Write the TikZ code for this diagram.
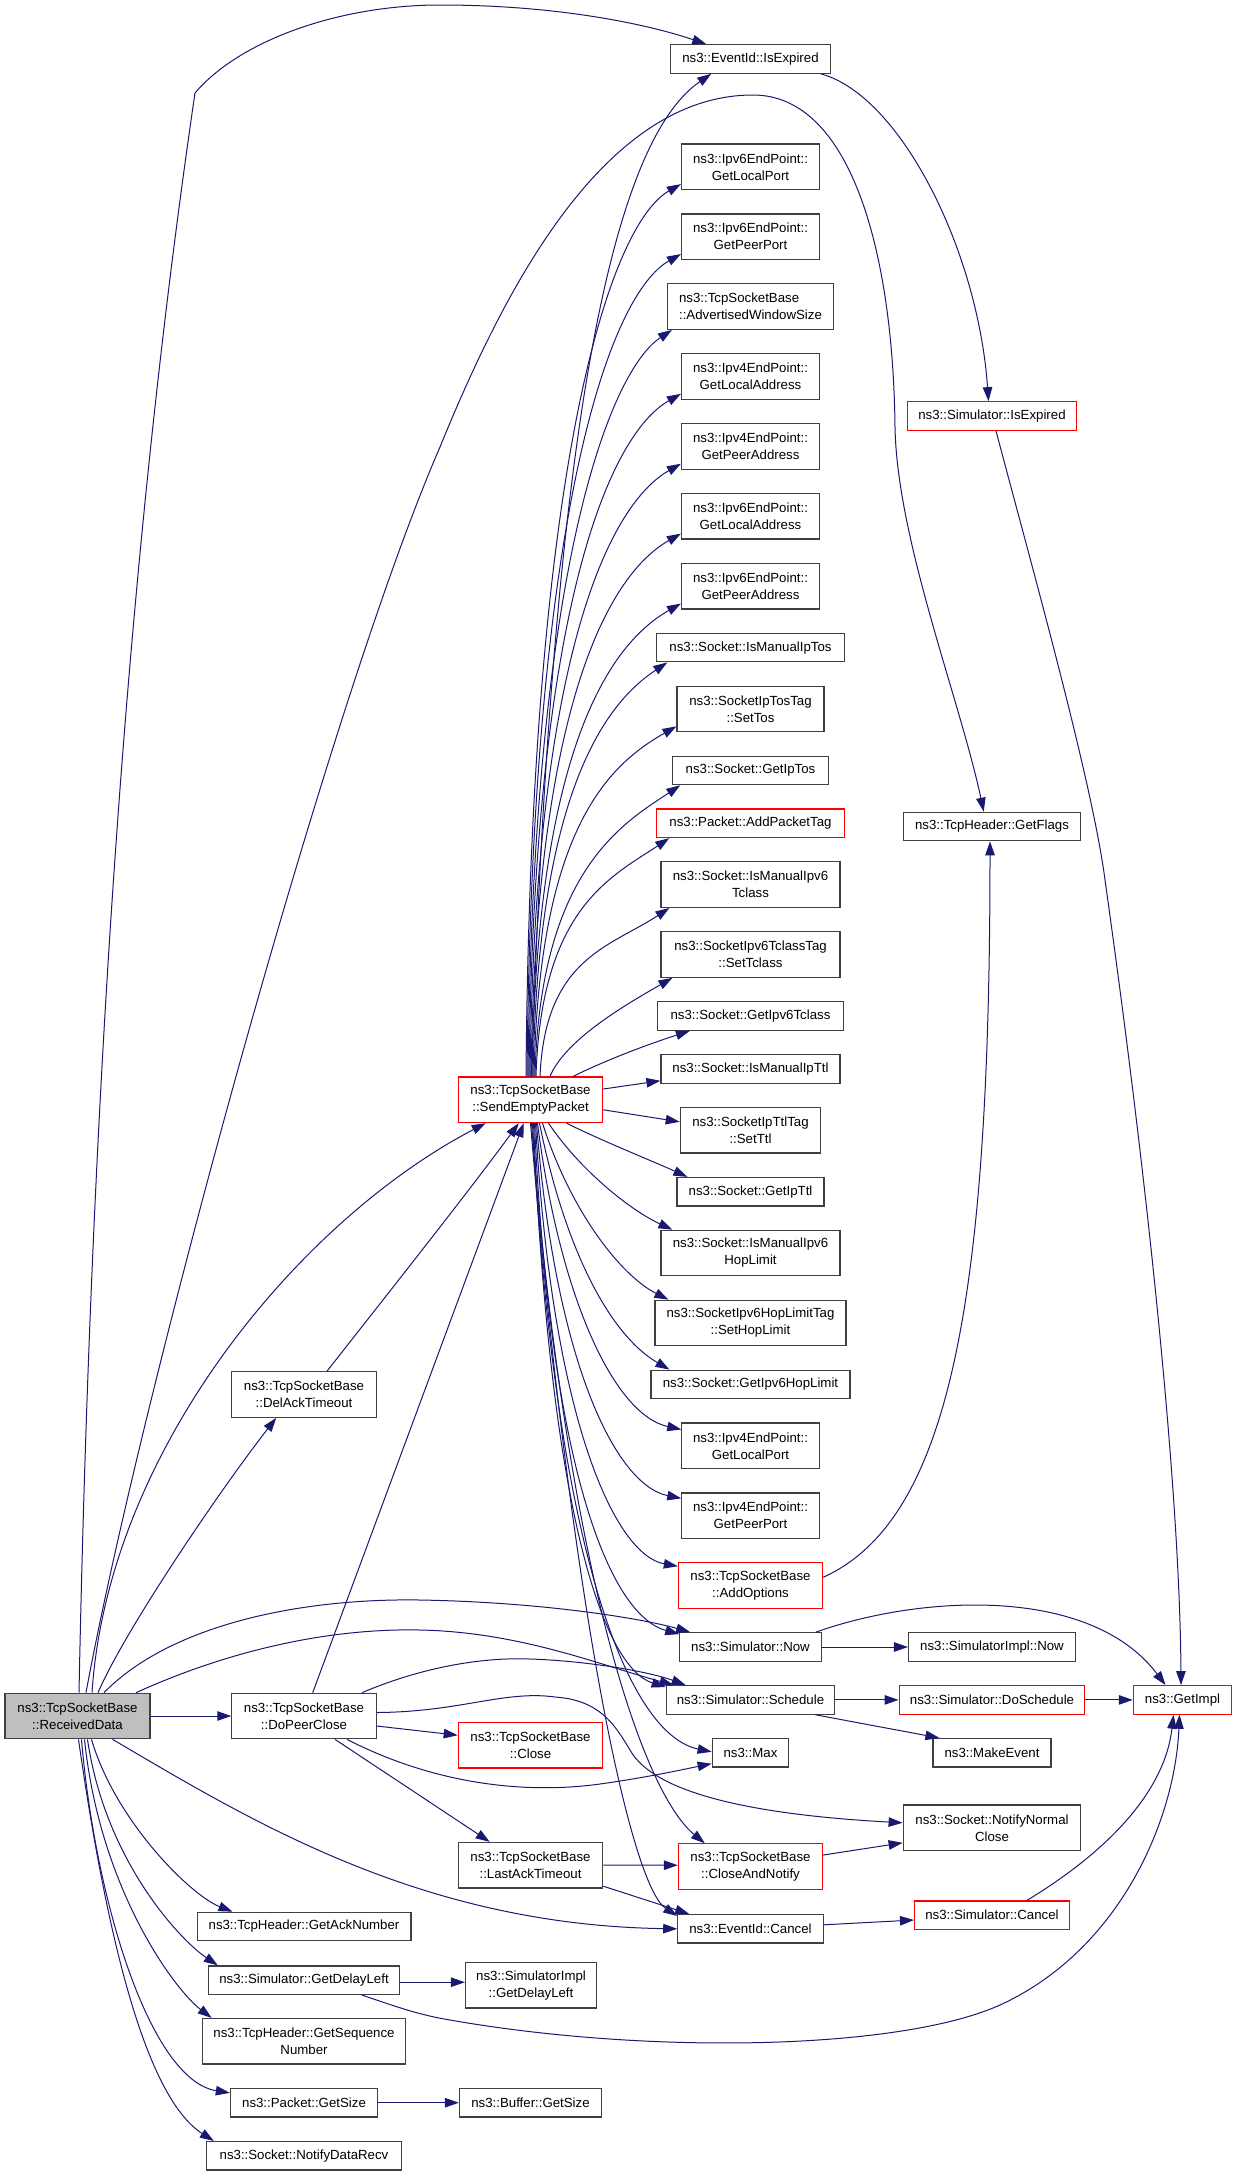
\documentclass[tikz,border=0pt]{standalone}
\usepackage{fontspec}
\setmainfont{Liberation Sans}
\usetikzlibrary{arrows.meta}
\definecolor{eblue}{HTML}{191970}
\definecolor{bgray}{HTML}{404040}
\definecolor{fillg}{HTML}{BFBFBF}
\newcommand\dxfont{\fontsize{13.25}{17}\selectfont}
\begin{document}
\begin{tikzpicture}[x=1pt,y=-1pt,
  nbox/.style={draw=bgray,line width=1.2pt,fill=white,inner sep=0pt,align=center,font=\dxfont,text=black},
  nred/.style={nbox,draw=red},
  ln1/.style={minimum height=28.5pt},
  ln2/.style={minimum height=45.5pt},
  edg/.style={draw=eblue,line width=1pt,-{Triangle[length=14pt,width=9.5pt]}}]
\useasboundingbox (0,0) rectangle (1237,2176);

% column 1
\node[nbox,ln2,minimum width=145pt,fill=fillg] (rd) at (77.5,1716) {ns3::TcpSocketBase\\::ReceivedData};
% column 2
\node[nbox,ln2,minimum width=144.3pt] (dat) at (304,1394.5) {ns3::TcpSocketBase\\::DelAckTimeout};
\node[nbox,ln2,minimum width=144.3pt] (dpc) at (304,1716) {ns3::TcpSocketBase\\::DoPeerClose};
\node[nbox,ln1,minimum width=213.8pt] (gan) at (304,1926.5) {ns3::TcpHeader::GetAckNumber};
\node[nbox,ln1,minimum width=191.2pt] (sgdl) at (304,1980.2) {ns3::Simulator::GetDelayLeft};
\node[nbox,ln2,minimum width=203.6pt] (gsn) at (304,2041.2) {ns3::TcpHeader::GetSequence\\Number};
\node[nbox,ln1,minimum width=147.2pt] (pgs) at (304,2102.7) {ns3::Packet::GetSize};
\node[nbox,ln1,minimum width=195.1pt] (ndr) at (304,2155.8) {ns3::Socket::NotifyDataRecv};
% column 3
\node[nred,ln2,minimum width=144.4pt] (sep) at (530.5,1099.8) {ns3::TcpSocketBase\\::SendEmptyPacket};
\node[nred,ln2,minimum width=144.4pt] (cls) at (530.5,1745.2) {ns3::TcpSocketBase\\::Close};
\node[nbox,ln2,minimum width=144.4pt] (lat) at (530.5,1865.2) {ns3::TcpSocketBase\\::LastAckTimeout};
\node[nbox,ln2,minimum width=131pt] (sigdl) at (531,1985.2) {ns3::SimulatorImpl\\::GetDelayLeft};
\node[nbox,ln1,minimum width=142.1pt] (bgs) at (530.5,2102.7) {ns3::Buffer::GetSize};
% column 4
\node[nbox,ln1,minimum width=159.3pt] (eie) at (750.5,59) {ns3::EventId::IsExpired};
\node[nbox,ln2,minimum width=138pt] (v6lp) at (750.5,166.8) {ns3::Ipv6EndPoint::\\GetLocalPort};
\node[nbox,ln2,minimum width=138pt] (v6pp) at (750.5,236.7) {ns3::Ipv6EndPoint::\\GetPeerPort};
\node[nbox,ln2,minimum width=166pt,align=left] (aws) at (750.5,306.6) {ns3::TcpSocketBase\\::AdvertisedWindowSize};
\node[nbox,ln2,minimum width=138pt] (v4la) at (750.5,376.5) {ns3::Ipv4EndPoint::\\GetLocalAddress};
\node[nbox,ln2,minimum width=138pt] (v4pa) at (750.5,446.4) {ns3::Ipv4EndPoint::\\GetPeerAddress};
\node[nbox,ln2,minimum width=138pt] (v6la) at (750.5,516.3) {ns3::Ipv6EndPoint::\\GetLocalAddress};
\node[nbox,ln2,minimum width=138pt] (v6pa) at (750.5,586.2) {ns3::Ipv6EndPoint::\\GetPeerAddress};
\node[nbox,ln1,minimum width=187.3pt] (imtos) at (750.5,647.6) {ns3::Socket::IsManualIpTos};
\node[nbox,ln2,minimum width=147pt] (stos) at (750.5,709) {ns3::SocketIpTosTag\\::SetTos};
\node[nbox,ln1,minimum width=155.3pt] (gtos) at (750.5,770.4) {ns3::Socket::GetIpTos};
\node[nred,ln1,minimum width=187.3pt] (apt) at (750.5,823.3) {ns3::Packet::AddPacketTag};
\node[nbox,ln2,minimum width=179pt] (imtc) at (750.5,884.6) {ns3::Socket::IsManualIpv6\\Tclass};
\node[nbox,ln2,minimum width=179pt] (stc) at (750.5,954.5) {ns3::SocketIpv6TclassTag\\::SetTclass};
\node[nbox,ln1,minimum width=186pt] (gtc) at (750.5,1016) {ns3::Socket::GetIpv6Tclass};
\node[nbox,ln1,minimum width=179pt] (imttl) at (750.5,1068.9) {ns3::Socket::IsManualIpTtl};
\node[nbox,ln2,minimum width=140.4pt] (sttl) at (750.5,1130.3) {ns3::SocketIpTtlTag\\::SetTtl};
\node[nbox,ln1,minimum width=147pt] (gttl) at (750.5,1191.7) {ns3::Socket::GetIpTtl};
\node[nbox,ln2,minimum width=179pt] (imhl) at (750.5,1253) {ns3::Socket::IsManualIpv6\\HopLimit};
\node[nbox,ln2,minimum width=191pt] (shl) at (750.5,1323) {ns3::SocketIpv6HopLimitTag\\::SetHopLimit};
\node[nbox,ln1,minimum width=199pt] (ghl) at (750.5,1384.4) {ns3::Socket::GetIpv6HopLimit};
\node[nbox,ln2,minimum width=137.3pt] (v4lp) at (750.5,1445.8) {ns3::Ipv4EndPoint::\\GetLocalPort};
\node[nbox,ln2,minimum width=137.3pt] (v4pp) at (750.5,1515.7) {ns3::Ipv4EndPoint::\\GetPeerPort};
\node[nred,ln2,minimum width=144.2pt] (ao) at (750.5,1585.6) {ns3::TcpSocketBase\\::AddOptions};
\node[nbox,ln1,minimum width=141.4pt] (now) at (750.5,1647) {ns3::Simulator::Now};
\node[nbox,ln1,minimum width=168.6pt] (sch) at (750.5,1699.9) {ns3::Simulator::Schedule};
\node[nbox,ln1,minimum width=76.5pt] (max) at (750.5,1752.8) {ns3::Max};
\node[nred,ln2,minimum width=144.2pt] (can) at (750.5,1866.6) {ns3::TcpSocketBase\\::CloseAndNotify};
\node[nbox,ln1,minimum width=145.4pt] (eic) at (750.5,1928.8) {ns3::EventId::Cancel};
% column 5
\node[nred,ln1,minimum width=169.7pt] (sie) at (992,416) {ns3::Simulator::IsExpired};
\node[nbox,ln1,minimum width=176.7pt] (gfl) at (992,826.5) {ns3::TcpHeader::GetFlags};
\node[nbox,ln1,minimum width=166.9pt] (sin) at (992,1647) {ns3::SimulatorImpl::Now};
\node[nred,ln1,minimum width=185.7pt] (dsc) at (992,1699.9) {ns3::Simulator::DoSchedule};
\node[nbox,ln1,minimum width=118pt] (mke) at (992,1752.8) {ns3::MakeEvent};
\node[nbox,ln2,minimum width=177.6pt] (nnc) at (992,1827.8) {ns3::Socket::NotifyNormal\\Close};
\node[nred,ln1,minimum width=154.8pt] (sca) at (992,1915.2) {ns3::Simulator::Cancel};
% column 6
\node[nred,ln1,minimum width=98.3pt] (gim) at (1182.5,1699.9) {ns3::GetImpl};

% ---- edges from ReceivedData
\draw[edg] ([xshift=1.5pt]rd.north) .. controls (95,900) and (150,400) .. (195,93) .. controls (240,40) and (340,5) .. (440,5) .. controls (560,5) and (650,25) .. ([xshift=36pt]eie.north west);
\draw[edg] ([xshift=8.5pt]rd.north) .. controls (140,1400) and (330,700) .. (440,447) .. controls (500,300) and (600,95) .. (753,95) .. controls (850,95) and (893,250) .. (895,427) .. controls (897,540) and (960,700) .. ([xshift=80.7pt]gfl.north west);
\draw[edg] ([xshift=14.5pt]rd.north) .. controls (108,1450) and (300,1220) .. ([xshift=28pt]sep.south west);
\draw[edg] ([xshift=20.5pt]rd.north) .. controls (125,1630) and (220,1490) .. ([xshift=45pt]dat.south west);
\draw[edg] (rd.east) -- (dpc.west);
\draw[edg] ([xshift=26.5pt]rd.north) .. controls (170,1625) and (300,1598) .. (420,1600) .. controls (540,1602) and (640,1618) .. ([xshift=11pt]now.north west);
\draw[edg] ([xshift=58.5pt]rd.north) .. controls (230,1650) and (330,1628) .. (420,1630) .. controls (520,1632) and (600,1665) .. ([xshift=8pt]sch.north west);
\draw[edg] ([xshift=35pt]rd.south) .. controls (250,1820) and (420,1925) .. (eic.west);
\draw[edg] ([xshift=14pt]rd.south) .. controls (115,1820) and (190,1895) .. ([xshift=36pt]gan.north west);
\draw[edg] ([xshift=10pt]rd.south) .. controls (105,1860) and (180,1940) .. ([xshift=10pt]sgdl.north west);
\draw[edg] ([xshift=7pt]rd.south) .. controls (100,1890) and (175,1990) .. ([xshift=10pt]gsn.north west);
\draw[edg] ([xshift=4pt]rd.south) .. controls (95,1900) and (150,2080) .. ([yshift=-5pt]pgs.north west);
\draw[edg] ([xshift=1pt]rd.south) .. controls (110,1960) and (150,2100) .. ([xshift=8pt]ndr.north west);

% ---- DelAckTimeout, DoPeerClose
\draw[edg] ([xshift=23pt]dat.north) .. controls (375,1310) and (470,1190) .. ([xshift=61pt]sep.south west);
\draw[edg] ([xshift=8.7pt]dpc.north) -- ([xshift=66pt]sep.south west);
\draw[edg] ([xshift=58pt]dpc.north) .. controls (420,1668) and (480,1657) .. (530,1659) .. controls (590,1661) and (650,1672) .. ([xshift=20pt]sch.north west);
\draw[edg] ([yshift=3.5pt]dpc.east) .. controls (460,1712) and (505,1690) .. (555,1697) .. controls (600,1700) and (615,1725) .. (630,1750) .. controls (655,1795) and (760,1815) .. ([yshift=5pt]nnc.west);
\draw[edg] ([yshift=-10pt]dpc.east) -- ([yshift=10pt]cls.west);
\draw[edg] ([xshift=43pt]dpc.south) .. controls (430,1782) and (520,1795) .. (600,1784) .. controls (650,1777) and (690,1768) .. ([yshift=4pt]max.south west);
\draw[edg] ([xshift=31pt]dpc.south) -- ([xshift=32pt]lat.north west);

% ---- LastAckTimeout, GetDelayLeft, GetSize
\draw[edg] (lat.east) -- ([yshift=1.4pt]can.west);
\draw[edg] ([yshift=-21pt]lat.east) -- ([xshift=12pt]eic.north west);
\draw[edg] ([yshift=-2pt]sgdl.east) -- ([yshift=3pt]sigdl.west);
\draw[edg] ([xshift=58pt]sgdl.south) .. controls (400,2008) and (420,2015) .. (450,2020) .. controls (650,2055) and (900,2050) .. (1000,2005) .. controls (1120,1950) and (1175,1820) .. ([xshift=-3pt]gim.south);
\draw[edg] (pgs.east) -- (bgs.west);

% ---- SendEmptyPacket upwards
\draw[edg] ([xshift=1pt]sep.north) .. controls (550,500) and (600,150) .. ([xshift=41pt]eie.south west);
\draw[edg] ([xshift=-4.5pt]sep.north) .. controls (531,451.6) and (611.5,223.5) .. ([yshift=6pt]v6lp.south west);
\draw[edg] ([xshift=-3.5pt]sep.north) .. controls (532,500.5) and (611.5,293.5) .. ([yshift=6pt]v6pp.south west);
\draw[edg] ([xshift=-2.5pt]sep.north) .. controls (533,553.6) and (612.5,369.4) .. ([xshift=5pt]aws.south west);
\draw[edg] ([xshift=-1.5pt]sep.north) .. controls (534,598.3) and (611.5,433.3) .. ([yshift=6pt]v4la.south west);
\draw[edg] ([xshift=-0.5pt]sep.north) .. controls (535,647.3) and (611.5,503.2) .. ([yshift=6pt]v4pa.south west);
\draw[edg] ([xshift=0.5pt]sep.north) .. controls (536,696.3) and (611.5,573) .. ([yshift=6pt]v6la.south west);
\draw[edg] ([xshift=1.5pt]sep.north) .. controls (537,744.3) and (611.5,643) .. ([yshift=6pt]v6pa.south west);
\draw[edg] ([xshift=2.5pt]sep.north) .. controls (538,786.4) and (607.9,701.9) .. ([xshift=11pt]imtos.south west);
\draw[edg] ([xshift=3.5pt]sep.north) .. controls (539,831) and (607,765.8) .. ([yshift=6pt]stos.south west);
\draw[edg] ([xshift=4.5pt]sep.north) .. controls (540,872) and (620.9,824.7) .. ([xshift=8pt]gtos.south west);
\draw[edg] ([xshift=5.5pt]sep.north) .. controls (541,909) and (609.9,877.6) .. ([xshift=13pt]apt.south west);
\draw[edg] ([xshift=9.5pt]sep.north) .. controls (545,958) and (610,947) .. ([xshift=9pt]imtc.south west);
\draw[edg] ([xshift=19.5pt]sep.north) .. controls (565,1040) and (625,1005) .. ([xshift=12pt]stc.south west);
\draw[edg] ([xshift=42.5pt]sep.north) .. controls (610,1058) and (655,1042) .. ([xshift=33pt]gtc.south west);
% ---- SendEmptyPacket sideways and down
\draw[edg] ([yshift=10.8pt]sep.east) -- ([yshift=3pt]imttl.south west);
\draw[edg] ([yshift=-10pt]sep.east) -- ([yshift=8.5pt]sttl.west);
\draw[edg] ([xshift=36pt]sep.south) .. controls (600,1140) and (650,1160) .. ([xshift=11pt]gttl.north west);
\draw[edg] ([xshift=18pt]sep.south) .. controls (580,1170) and (630,1210) .. ([xshift=12pt]imhl.north west);
\draw[edg] ([xshift=12pt]sep.south) .. controls (570,1210) and (620,1275) .. ([xshift=14pt]shl.north west);
\draw[edg] ([xshift=9pt]sep.south) .. controls (565,1250) and (610,1335) .. ([xshift=19pt]ghl.north west);
\draw[edg] ([xshift=7pt]sep.south) .. controls (560,1300) and (615,1415) .. ([yshift=-7pt]v4lp.north west);
\draw[edg] ([xshift=6pt]sep.south) .. controls (555,1360) and (615,1485) .. ([yshift=-6pt]v4pp.north west);
\draw[edg] ([xshift=5pt]sep.south) .. controls (552,1420) and (615,1555) .. ([yshift=-4pt]ao.north west);
\draw[edg] ([xshift=4pt]sep.south) .. controls (550,1470) and (610,1615) .. ([yshift=-2pt]now.north west);
\draw[edg] ([xshift=3pt]sep.south) .. controls (550,1520) and (605,1668) .. ([yshift=-2pt]sch.north west);
\draw[edg] ([xshift=2pt]sep.south) .. controls (555,1560) and (630,1735) .. ([yshift=1pt]max.west);
\draw[edg] ([xshift=1pt]sep.south) .. controls (565,1560) and (640,1790) .. ([xshift=27pt]can.north west);
\draw[edg] (sep.south) .. controls (570,1600) and (630,1885) .. ([yshift=-2pt]eic.north west);

% ---- column 4 to 5 and 6
\draw[edg] ([xshift=-10pt]eie.south east) .. controls (900,95) and (978,250) .. ([xshift=-3.5pt]sie.north);
\draw[edg] ([xshift=4pt]sie.south) .. controls (1030,560) and (1092,780) .. (1105,880) .. controls (1150,1200) and (1180,1500) .. ([xshift=-1.5pt]gim.north);
\draw[edg] ([yshift=-15pt]ao.north east) .. controls (950,1520) and (990,1300) .. ([xshift=-2pt]gfl.south);
\draw[edg] (now.east) -- (sin.west);
\draw[edg] ([xshift=-6pt]now.north east) .. controls (920,1595) and (1090,1585) .. ([xshift=-17pt]gim.north);
\draw[edg] (sch.east) -- (dsc.west);
\draw[edg] ([xshift=-20pt]sch.south east) -- ([xshift=7pt]mke.north west);
\draw[edg] (dsc.east) -- (gim.west);
\draw[edg] ([yshift=11.6pt]can.east) -- ([yshift=-15pt]nnc.west);
\draw[edg] ([yshift=4pt]eic.east) -- ([yshift=-4.8pt]sca.west);
\draw[edg] ([xshift=35pt]sca.north) .. controls (1110,1850) and (1165,1790) .. ([xshift=-9pt]gim.south);
\end{tikzpicture}
\end{document}
